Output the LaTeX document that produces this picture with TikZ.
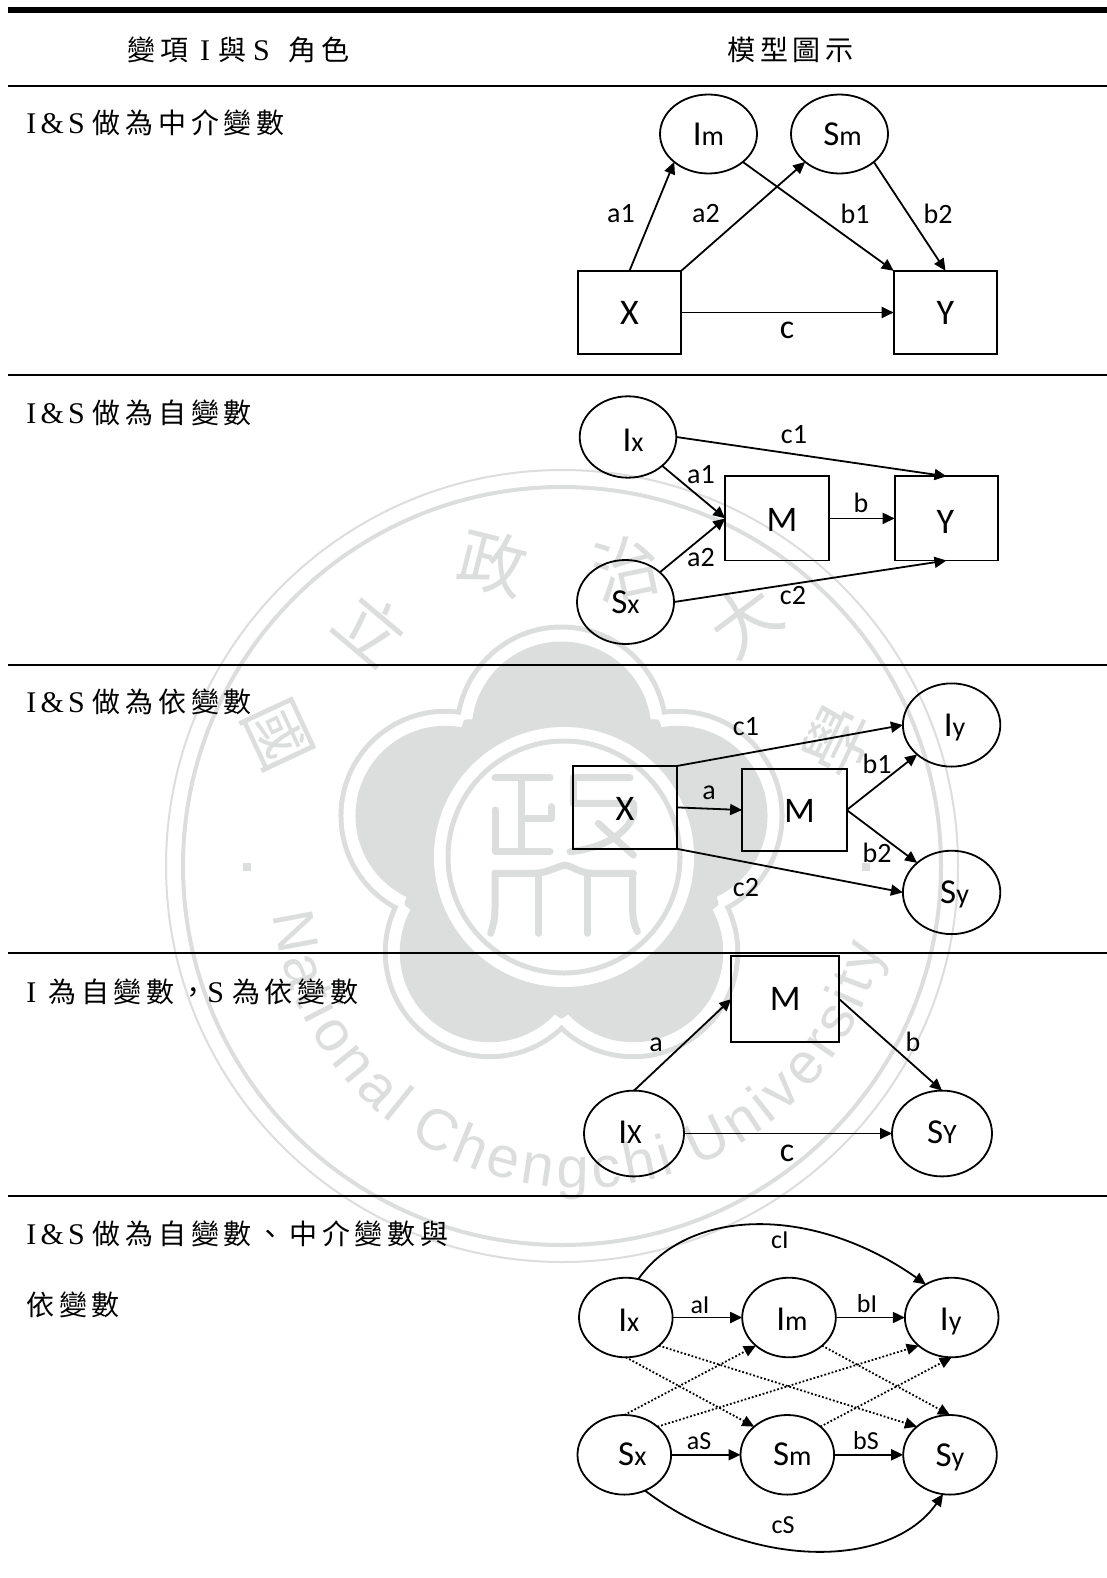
\documentclass[tikz,border=0pt]{standalone}
\usepackage{fontspec}
\usetikzlibrary{arrows.meta,shapes.geometric,calc}
\setmainfont{Carlito}
\newfontfamily\cjkf[LetterSpace=17]{Noto Sans CJK TC}
\newfontfamily\latf[LetterSpace=14]{Liberation Serif}
\newfontfamily\wmcjk{Noto Sans CJK TC}
\newfontfamily\wmlat{Liberation Sans}
\definecolor{wm}{HTML}{DCDDDD}
\newcommand\cj[1]{{\fontsize{14pt}{14pt}\cjkf #1}}
\newcommand\lt[1]{{\fontsize{15pt}{15pt}\latf #1}}
\newcommand\bigvar[2]{{\fontsize{17.5pt}{17.5pt}\selectfont #1}{\fontsize{14pt}{14pt}\selectfont #2}}
\newcommand\nudged[3]{\hspace*{#1}\raisebox{0pt}[\dimexpr\height+2\dimexpr#2\relax\relax][\depth]{#3}}
\tikzset{
  oval/.style={draw,ellipse,inner sep=0pt,outer sep=0pt,line width=.9pt,font=\fontsize{17.5pt}{17.5pt}\selectfont},
  sq/.style={draw,rectangle,inner sep=0pt,outer sep=0pt,line width=.9pt,font=\fontsize{18pt}{18pt}\selectfont},
  lab/.style={inner sep=0pt,font=\fontsize{14pt}{14pt}\selectfont},
  labbig/.style={inner sep=0pt,font=\fontsize{17pt}{17pt}\selectfont},
  labs/.style={inner sep=0pt,font=\fontsize{13pt}{13pt}\selectfont},
  cell/.style={inner sep=0pt,anchor=west},
  wmch/.style={inner sep=0pt,text=wm,font=\fontsize{34pt}{34pt}\wmcjk},
  wmlet/.style={inner sep=0pt,anchor=base,text=wm,font=\fontsize{29pt}{29pt}\wmlat},
  arr/.style={line width=.9pt,-{Triangle[length=6pt,width=5.5pt]}},
  dotarr/.style={line width=.9pt,densely dotted,-{Triangle[length=6pt,width=5.5pt]}},
  rulethin/.style={line width=1pt},
  seal/.style={draw=wm,line width=3.5pt,line cap=round,line join=round}
}
\begin{document}
\begin{tikzpicture}[x=.5pt,y=-.5pt]
\useasboundingbox (0,0) rectangle (1107,1578);
\fill[white] (0,0) rectangle (1107,1578);

% ---------- watermark ----------
\draw[wm,line width=1pt] (562,866) circle[radius=396];
\draw[wm,line width=2pt] (562,866) circle[radius=379];
\begin{scope}[shift={(561.5,853.5)}]
  \foreach \a in {90,162,234,306,18} \fill[wm] ({122*cos(\a)},{-122*sin(\a)}) circle[radius=107];
  \foreach \a in {90,162,234,306,18} \fill[white] ({122*cos(\a)},{-122*sin(\a)}) circle[radius=102];
  \foreach \a in {90,162,234,306,18} \fill[wm] ({122*cos(\a)},{-122*sin(\a)}) circle[radius=90];
  \fill[wm,draw=wm,line width=3pt,line join=round]
     ({162*cos(126)},{-162*sin(126)}) -- ({162*cos(198)},{-162*sin(198)}) -- ({162*cos(270)},{-162*sin(270)})
     -- ({162*cos(342)},{-162*sin(342)}) -- ({162*cos(54)},{-162*sin(54)}) -- cycle;
\end{scope}
\fill[white] (564,857) circle[radius=130];
\draw[wm,line width=2.5pt] (564,857) circle[radius=116];
\begin{scope}[shift={(470,755)},x=.16667pt,y=-.16667pt]
  \draw[seal] (75,68) -- (240,68) (155,68) -- (155,290) (155,190) -- (245,190) -- (245,155)
     (75,165) -- (75,290) -- (240,290);
  \draw[seal] (480,68) -- (310,68) -- (310,145) -- (490,145) .. controls (505,200) and (440,275) .. (300,290)
     (385,205) -- (490,300);
  \draw[seal] (75,355) -- (190,355) .. controls (230,355) and (260,335) .. (285,330)
     .. controls (310,335) and (330,355) .. (370,355) -- (490,355);
  \draw[seal] (75,355) -- (75,460) .. controls (75,490) and (70,510) .. (62,535);
  \draw[seal] (205,355) -- (205,535) (352,355) -- (352,535);
  \draw[seal] (488,355) -- (488,460) .. controls (488,490) and (492,510) .. (502,530);
\end{scope}
\node[wmch,rotate=-65] (w1) at (278,735) {國};
\node[wmch,rotate=-40] (w2) at (372,628) {立};
\node[wmch,rotate=-14] (w3) at (493,563) {政};
\node[wmch,rotate=12] (w4) at (626,568) {治};
\node[wmch,rotate=37] (w5) at (745,620) {大};
\node[wmch,rotate=64] (w6) at (837,741) {學};
\fill[wm] (243,863) rectangle (251,871);
\fill[wm] (862,863) rectangle (870,871);
\xdef\arcpos{0}
\foreach \ch/\w/\g [count=\n] in {N/.722/0,a/.556/0,t/.278/0,i/.222/0,o/.556/0,n/.556/0,a/.556/0,l/.222/.278,
   C/.722/0,h/.556/0,e/.556/0,n/.556/0,g/.556/0,c/.5/0,h/.556/0,i/.222/.278,
   U/.722/0,n/.556/0,i/.222/0,v/.5/0,e/.556/0,r/.333/0,s/.5/0,i/.222/0,t/.278/0,y/.5/0}{
  \pgfmathsetmacro\th{186.7+0.18485*(\arcpos+\w*29)}
  \pgfmathsetmacro\rot{\th-270}
  \node[wmlet,rotate=\rot] (wl\n) at ({581+310*cos(\th)},{878-310*sin(\th)}) {\ch};
  \pgfmathsetmacro\nxt{\arcpos+(\w+\g)*58+4.9}
  \xdef\arcpos{\nxt}
}

% ---------- table rules ----------
\draw[line width=3.25pt] (8,10) -- (1107,10);
\draw[rulethin] (8,86) -- (1107,86);
\draw[rulethin] (8,374.5) -- (1107,374.5);
\draw[rulethin] (8,664.6) -- (1107,664.6);
\draw[rulethin] (8,953.4) -- (1107,953.4);
\draw[rulethin] (8,1196) -- (1107,1196);

% ---------- left column and header ----------
\node[cell] (h1) at (127,50) {\cj{變項}\hspace{6pt}\lt{I}\hspace{4pt}\cj{與}\hspace{3.5pt}\lt{S}\hspace{9.5pt}\cj{角色}};
\node[cell] (h2) at (727,50) {\cj{模型圖示}};
\node[cell] (t1) at (26,123) {\lt{I\&S}\hspace{4pt}\cj{做為中介變數}};
\node[cell] (t2) at (26,413) {\lt{I\&S}\hspace{4pt}\cj{做為自變數}};
\node[cell] (t3) at (26,702) {\lt{I\&S}\hspace{4pt}\cj{做為依變數}};
\node[cell] (t4) at (26,992) {\lt{I}\hspace{6pt}\cj{為自變數，}\lt{S}\hspace{4pt}\cj{為依變數}};
\node[cell] (t5) at (26,1234) {\lt{I\&S}\hspace{4pt}\cj{做為自變數、中介變數與}};
\node[cell] (t6) at (26,1305) {\cj{依變數}};

% ---------- row 1 ----------
\node[oval,minimum width=48.5pt,minimum height=39.5pt] (aI) at (708.5,134) {\bigvar{I}{m}};
\node[oval,minimum width=48.5pt,minimum height=39.5pt] (aS) at (839.5,134) {\nudged{3pt}{0pt}{\bigvar{S}{m}}};
\node[sq,minimum width=51.8pt,minimum height=41.7pt] (aX) at (629.5,312.5) {X};
\node[sq,minimum width=51.8pt,minimum height=41.7pt] (aY) at (945.5,312.5) {Y};
\draw[arr] (aX.north) -- (aI.south west);
\draw[arr] (aX.north east) -- (aS.south west);
\draw[arr] (aI.south east) -- (aY.north west);
\draw[arr] (aS.south east) -- (aY.north);
\draw[arr] (aX.east) -- (aY.west);
\node[lab] (al1) at (621,214) {a1};
\node[lab] (al2) at (706,214) {a2};
\node[lab] (al3) at (855,214) {b1};
\node[lab] (al4) at (938,214) {b2};
\node[labbig] (al5) at (787,330) {c};

% ---------- row 2 ----------
\node[oval,minimum width=48.3pt,minimum height=40.7pt] (bI) at (628,437) {\nudged{5pt}{1.5pt}{\bigvar{I}{x}}};
\node[oval,minimum width=48.5pt,minimum height=42pt] (bS) at (625.5,602) {\bigvar{S}{x}};
\node[sq,minimum width=51.8pt,minimum height=42.1pt] (bM) at (777,518.4) {\nudged{5pt}{1pt}{M}};
\node[sq,minimum width=51.8pt,minimum height=42.1pt] (bY) at (946.5,518.4) {\nudged{-1pt}{2pt}{Y}};
\draw[arr] (bI.south east) -- (bM.west);
\draw[arr] (bS.north east) -- (bM.west);
\draw[arr] (bM.east) -- (bY.west);
\draw[arr] (bI.east) -- (bY.north);
\draw[arr] (bS.east) -- (bY.south);
\node[lab] (bl1) at (794,435) {c1};
\node[lab] (bl2) at (701,475) {a1};
\node[lab] (bl3) at (861,503) {b};
\node[lab] (bl4) at (701,558) {a2};
\node[lab] (bl5) at (793,596) {c2};

% ---------- row 3 ----------
\node[sq,minimum width=51.8pt,minimum height=41.4pt] (cX) at (625,807.4) {\nudged{0pt}{1pt}{X}};
\node[sq,minimum width=52.3pt,minimum height=41.3pt] (cM) at (794.4,810) {\nudged{5pt}{.5pt}{M}};
\node[oval,minimum width=48.7pt,minimum height=41.6pt] (cI) at (951.6,725) {\nudged{3pt}{1.5pt}{\bigvar{I}{y}}};
\node[oval,minimum width=48.7pt,minimum height=41.7pt] (cS) at (951.6,892.4) {\nudged{3pt}{1pt}{\bigvar{S}{y}}};
\draw[arr] (cX.east) -- (cM.west);
\draw[arr] (cX.north east) -- (cI.west);
\draw[arr] (cX.south east) -- (cS.west);
\draw[arr] (cM.east) -- (cI.south west);
\draw[arr] (cM.east) -- (cS.north west);
\node[lab] (cl1) at (709,793) {a};
\node[lab] (cl2) at (746,727) {c1};
\node[lab] (cl3) at (746,887) {c2};
\node[lab] (cl4) at (877,764) {b1};
\node[lab] (cl5) at (877,853) {b2};

% ---------- row 4 ----------
\node[sq,minimum width=53.9pt,minimum height=43pt] (dM) at (785.2,999) {M};
\node[oval,minimum width=50pt,minimum height=42.9pt] (dI) at (634,1133.5) {\nudged{-4pt}{-.5pt}{\bigvar{I}{X}}};
\node[oval,minimum width=50pt,minimum height=42.9pt] (dS) at (942,1133.5) {\nudged{0pt}{-.5pt}{\bigvar{S}{Y}}};
\draw[arr] (dI.north) -- (dM.west);
\draw[arr] (dM.east) -- (dS.north);
\draw[arr] (dI.east) -- (dS.west);
\node[lab] (dl1) at (656,1045) {a};
\node[lab] (dl2) at (913,1042) {b};
\node[labbig] (dl3) at (787,1153) {c};

% ---------- row 5 ----------
\node[oval,minimum width=46.8pt,minimum height=39.8pt] (eIx) at (625.8,1317.5) {\nudged{3pt}{1.5pt}{\bigvar{I}{x}}};
\node[oval,minimum width=46.8pt,minimum height=39.8pt] (eIm) at (789,1317.5) {\nudged{3pt}{1pt}{\bigvar{I}{m}}};
\node[oval,minimum width=46.8pt,minimum height=39.8pt] (eIy) at (951.7,1317.5) {\nudged{-1pt}{2pt}{\bigvar{I}{y}}};
\node[oval,minimum width=46.8pt,minimum height=39.8pt] (eSx) at (624.3,1454.8) {\nudged{8pt}{-.5pt}{\bigvar{S}{x}}};
\node[oval,minimum width=46.8pt,minimum height=39.8pt] (eSm) at (787.3,1454.8) {\nudged{5pt}{-.5pt}{\bigvar{S}{m}}};
\node[oval,minimum width=46.8pt,minimum height=39.8pt] (eSy) at (950,1454.8) {\nudged{0pt}{1.5pt}{\bigvar{S}{y}}};
\draw[arr] (eIx.east) -- (eIm.west);
\draw[arr] (eIm.east) -- (eIy.west);
\draw[arr] (eSx.east) -- (eSm.west);
\draw[arr] (eSm.east) -- (eSy.west);
\draw[arr] (eIx.72) .. controls (690,1206) and (815,1206) .. (eIy.128);
\draw[arr] (eSx.-60) .. controls (750,1570) and (890,1570) .. (eSy.-100);
\draw[dotarr] (eIx.south) -- (eSm.north west);
\draw[dotarr] (eIx.south east) -- (eSy.north west);
\draw[dotarr] (eIm.south east) -- (eSy.north);
\draw[dotarr] (eSx.north) -- (eIm.south west);
\draw[dotarr] (eSx.north east) -- (eIy.south west);
\draw[dotarr] (eSm.north east) -- (eIy.south);
\node[labs] (el1) at (700,1305) {aI};
\node[labs] (el2) at (867,1304) {bI};
\node[labs] (el3) at (699,1441) {aS};
\node[labs] (el4) at (866,1441) {bS};
\node[labs] (el5) at (780,1240) {cI};
\node[labs] (el6) at (783,1525) {cS};
\end{tikzpicture}
\end{document}
